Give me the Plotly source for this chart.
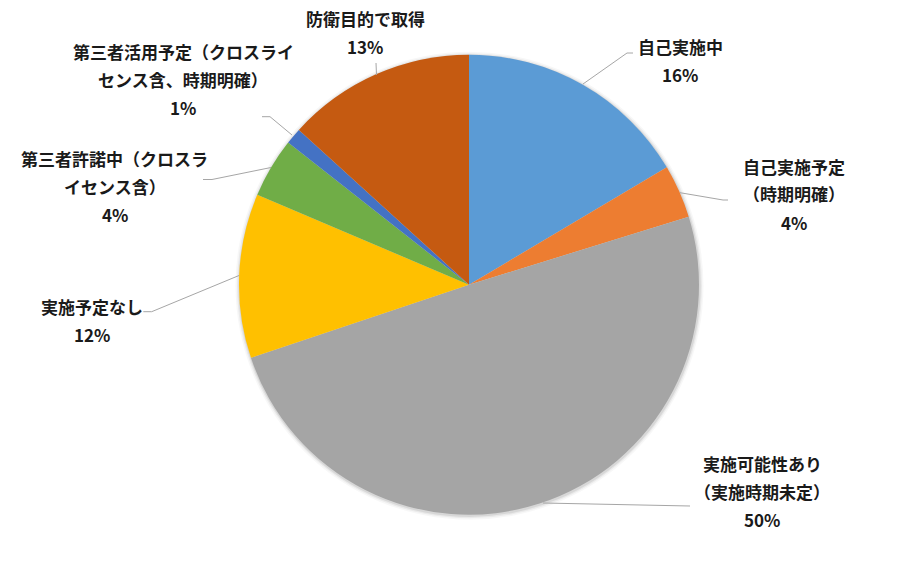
import plotly.graph_objects as go

# ---- data ----
categories = [
    "自己実施中",
    "自己実施予定（時期明確）",
    "実施可能性あり（実施時期未定）",
    "実施予定なし",
    "第三者許諾中（クロスライセンス含）",
    "第三者活用予定（クロスライセンス含、時期明確）",
    "防衛目的で取得",
]
values = [16.48, 3.75, 49.62, 11.54, 4.21, 1.15, 13.25]
colors = ["#5B9BD5", "#ED7D31", "#A5A5A5", "#FFC000", "#70AD47", "#4472C4", "#C55A11"]

# label text lines as shown on the chart (wrapped like the original)
label_lines = [
    ["自己実施中"],
    ["自己実施予定", "（時期明確）"],
    ["実施可能性あり", "（実施時期未定）"],
    ["実施予定なし"],
    ["第三者許諾中（クロスラ", "イセンス含）"],
    ["第三者活用予定（クロスライ", "センス含、時期明確）"],
    ["防衛目的で取得"],
]

W, H = 900, 571
CX, CY, R = 469.0, 284.7, 230.0

def px(x):
    return x / W

def py(y):
    return 1 - y / H

fig = go.Figure()
fig.add_trace(go.Pie(
    labels=categories,
    values=values,
    sort=False,
    direction="clockwise",
    rotation=0,
    marker=dict(colors=colors, line=dict(width=0)),
    textinfo="none",
    hoverinfo="label+percent",
    domain=dict(x=[px(CX - R), px(CX + R)], y=[py(CY + R), py(CY - R)]),
    showlegend=False,
))

total = sum(values)
pcts = [f"{round(v / total * 100)}%" for v in values]

# label anchor positions (center x, y of first line) and line spacing
label_pos = [
    (680, 46.7),
    (794, 166),
    (762, 463.3),
    (92, 306.7),
    (115, 158.5),
    (183, 51.7),
    (365, 18.3),
]
LS = 28.0
font = dict(family="Noto Sans CJK JP, Noto Sans, sans-serif", size=17, color="#1a1a1a", weight="bold")

annotations = []
for lines, pct, (x, y) in zip(label_lines, pcts, label_pos):
    for i, t in enumerate(lines + [pct]):
        annotations.append(dict(
            x=px(x), y=py(y + i * LS), xref="paper", yref="paper",
            text=t, showarrow=False, font=font, xanchor="center", yanchor="middle",
        ))

# leader lines (polylines in pixel space)
leaders = [
    [(583, 84), (627, 53), (633, 53)],
    [(680, 192.7), (723, 200), (728, 200)],
    [(543, 503), (690, 506)],
    [(143.3, 311.7), (151.7, 311.7), (239, 275.5)],
    [(203, 179.5), (212, 179.5), (271, 167.5)],
    [(262, 116.7), (270, 116.7), (292, 135)],
    [(376, 63), (376.5, 75)],
]
shapes = []
# soft shadow around pie
for dr, a in [(4.0, 0.03), (2.5, 0.05), (1.2, 0.08)]:
    shapes.append(dict(
        type="circle", xref="paper", yref="paper", layer="below",
        x0=px(CX - R - dr + 0.5), x1=px(CX + R + dr + 0.5),
        y0=py(CY + R + dr + 1), y1=py(CY - R - dr + 1),
        line=dict(width=0), fillcolor=f"rgba(0,0,0,{a})",
    ))
for pts in leaders:
    path = "M " + " L ".join(f"{px(x)},{py(y)}" for x, y in pts)
    shapes.append(dict(type="path", xref="paper", yref="paper", path=path,
                       line=dict(color="#A6A6A6", width=1)))

fig.update_layout(
    width=W, height=H,
    margin=dict(l=0, r=0, t=0, b=0),
    paper_bgcolor="white",
    plot_bgcolor="white",
    annotations=annotations,
    shapes=shapes,
)

fig.write_html("out.html",
               config={"displayModeBar": False},
               post_script="document.body.style.margin='0';document.body.style.overflow='hidden';")
